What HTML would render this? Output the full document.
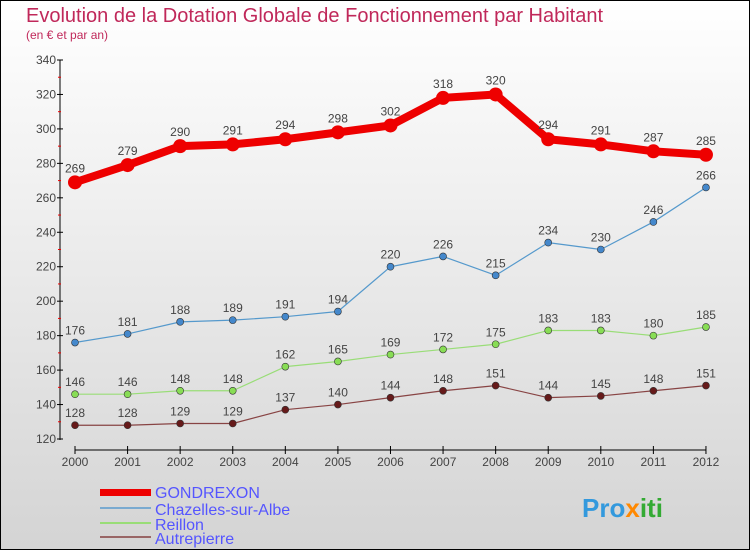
<!DOCTYPE html>
<html><head><meta charset="utf-8"><style>
body{margin:0}
#c{width:750px;height:550px;position:relative;font-family:"Liberation Sans",sans-serif}
</style></head><body>
<div id="c">
<svg id="s" width="750" height="550" xmlns="http://www.w3.org/2000/svg">
<defs><linearGradient id="bg" x1="0" y1="0" x2="0" y2="1"><stop offset="0" stop-color="#ffffff"/><stop offset="1" stop-color="#d4d4d4"/></linearGradient></defs>
<rect x="0.5" y="0.5" width="749" height="549" fill="url(#bg)" stroke="#000"/>
<text x="26" y="22" font-size="20" fill="#c0285a">Evolution de la Dotation Globale de Fonctionnement par Habitant</text>
<text x="26" y="39" font-size="12" fill="#c0285a">(en € et par an)</text>
<g id="axes"></g><g id="series"></g>
<g>
<rect x="100" y="489" width="51" height="7" fill="#e00"/>
<text x="155" y="498" font-size="16" fill="#5555ff">GONDREXON</text>
<rect x="100" y="507" width="51" height="2" fill="#7aaad0"/>
<text x="155" y="515" font-size="16" fill="#5555ff">Chazelles-sur-Albe</text>
<rect x="100" y="522" width="51" height="2" fill="#99dd77"/>
<text x="155" y="530" font-size="16" fill="#5555ff">Reillon</text>
<rect x="100" y="536" width="51" height="2" fill="#996666"/>
<text x="155" y="544" font-size="16" fill="#5555ff">Autrepierre</text>
</g>
<text x="582" y="517" font-size="26" font-weight="bold" fill="#3399dd">Pro<tspan fill="#ff8800">x</tspan><tspan fill="#33aa33">iti</tspan></text>
</svg></div>
<script>
const years=[2000,2001,2002,2003,2004,2005,2006,2007,2008,2009,2010,2011,2012];
const yTicks=[120,140,160,180,200,220,240,260,280,300,320,340];
const gondrexon=[269,279,290,291,294,298,302,318,320,294,291,287,285];
const chazelles=[176,181,188,189,191,194,220,226,215,234,230,246,266];
const reillon=[146,146,148,148,162,165,169,172,175,183,183,180,185];
const autrepierre=[128,128,129,129,137,140,144,148,151,144,145,148,151];
const NS="http://www.w3.org/2000/svg";
const X=i=>75+i*52.58;
const Y=v=>60+(340-v)*379/220;
function mk(p,t,a){const e=document.createElementNS(NS,t);for(const k in a)e.setAttribute(k,a[k]);p.appendChild(e);return e;}
const ax=document.getElementById('axes'),sr=document.getElementById('series');
let yl=mk(ax,'line',{x1:60,y1:60,x2:60,y2:440,stroke:'#000'});


yTicks.forEach(v=>{
 mk(ax,'line',{x1:57,y1:Y(v),x2:63,y2:Y(v),stroke:'#000'});
 if(v<340)mk(ax,'line',{x1:58,y1:Y(v+10),x2:61,y2:Y(v+10),stroke:'#e00'});
 const t=mk(ax,'text',{x:56,y:Y(v)+4,'font-size':12,fill:'#444','text-anchor':'end'});t.textContent=v;
 
 
});
let xl=mk(ax,'line',{x1:75,y1:450,x2:X(12),y2:450,stroke:'#000'});


years.forEach((y,i)=>{
 mk(ax,'line',{x1:X(i),y1:446,x2:X(i),y2:454,stroke:'#000'});
 const t=mk(ax,'text',{x:X(i),y:466,'font-size':12,fill:'#444','text-anchor':'middle'});t.textContent=y;
 
 
});
function series(d,name,col,w,r,dot){
 const g=mk(sr,'g',{});
 
 
 mk(g,'polyline',{points:d.map((v,i)=>X(i)+','+Y(v)).join(' '),fill:'none',stroke:col,'stroke-width':w,'stroke-linejoin':'round'});
 d.forEach((v,i)=>{
  const c=mk(g,'circle',{cx:X(i),cy:Y(v),r:r,fill:dot,stroke:'#333','stroke-width':w>3?0:0.6});
  
  
  const t=mk(g,'text',{x:X(i),y:Y(v)-(w>3?10:8),'font-size':12,fill:'#444','text-anchor':'middle'});t.textContent=v;
  
  
 });
}
series(autrepierre,'autrepierre','#884444',1.2,3.5,'#661a1a');
series(reillon,'reillon','#99dd77',1.2,3.5,'#88dd55');
series(chazelles,'chazelles','#5599cc',1.2,3.5,'#4488cc');
series(gondrexon,'gondrexon','#ee0000',8,7,'#ee0000');
</script></body></html>
